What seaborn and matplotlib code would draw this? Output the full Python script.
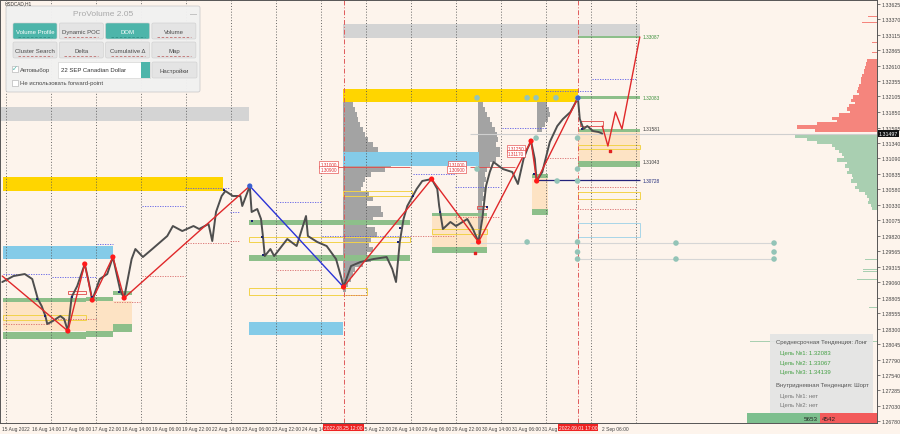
import numpy as np
import pandas as pd
import seaborn as sns
from matplotlib import pyplot as plt
from matplotlib.patches import Rectangle, FancyBboxPatch

sns.set_theme(style='white')
# 字体（西里尔字母 DejaVu / Liberation 都支持）
plt.rcParams['font.family'] = ['Liberation Sans', 'DejaVu Sans']
plt.rcParams['axes.unicode_minus'] = False
plt.rcParams['patch.force_edgecolor'] = False

'''数据'''
# 横轴：交易小时数，0 = 16 Aug 00:00（周末不计）
price_t = [-2, 4, 10, 14, 17, 19, 21, 22, 25, 29,
           31, 33, 35, 38, 42, 44, 46, 50, 54, 57,
           61, 63, 67, 69, 73, 78, 86, 89, 94, 100,
           103, 108, 110, 112, 115, 117, 121, 125, 126, 130,
           131, 134, 136, 137, 138, 141, 143, 150, 155, 160,
           161, 166, 171, 176, 179, 180, 184, 189, 196, 203,
           206, 208, 210, 212, 214, 219, 222, 227, 230, 231,
           233, 237, 240, 246, 249, 252, 254, 256, 258, 260,
           265, 270, 273, 276, 278, 280, 282, 283, 286, 290,
           294, 297, 301, 305, 306, 308, 310, 313, 316, 318]
price_v = [1.29063, 1.29161, 1.29194, 1.29112, 1.28784, 1.28670, 1.28506, 1.28375, 1.28424, 1.28506,
           1.28457, 1.28260, 1.28817, 1.28998, 1.29358, 1.29080, 1.28768, 1.29112, 1.29194, 1.29473,
           1.28916, 1.28801, 1.29440, 1.29604, 1.29473, 1.29604, 1.29817, 1.29981, 1.29899, 1.29981,
           1.29932, 1.30014, 1.29735, 1.30211, 1.30473, 1.30555, 1.30473, 1.30473, 1.30309, 1.30637,
           1.30211, 1.30260, 1.30096, 1.29817, 1.29489, 1.29604, 1.29489, 1.29768, 1.29653, 1.30145,
           1.29817, 1.29719, 1.29653, 1.29440, 1.29112, 1.28981, 1.29325, 1.29391, 1.29440, 1.29473,
           1.29276, 1.29063, 1.29719, 1.30096, 1.30309, 1.30588, 1.30719, 1.30751, 1.30588, 1.30309,
           1.29932, 1.30047, 1.29981, 1.30096, 1.29932, 1.29719, 1.30096, 1.30637, 1.30866, 1.31030,
           1.30915, 1.30866, 1.30670, 1.31079, 1.31243, 1.31374, 1.31079, 1.30719, 1.30866, 1.31358,
           1.31620, 1.31735, 1.31850, 1.32079, 1.31735, 1.31571, 1.31620, 1.31538, 1.31522, 1.31497]
current_price = 1.31497

# ZigZag
zz1_t = [-2, 33, 42, 46, 57, 63, 130]
zz1_v = [1.29161, 1.28260, 1.29358, 1.28768, 1.29473, 1.28801, 1.30637]
zz2_t = [130, 180]
zz2_v = [1.30637, 1.28981]
zz3_t = [180, 227, 252, 280, 283, 305]
zz3_v = [1.28981, 1.30751, 1.29719, 1.31374, 1.30719, 1.32079]
fc_t = [318, 321, 325, 328.5, 338]
fc_v = [1.31620, 1.31292, 1.31850, 1.31571, 1.33079]
red_dot_t = [33, 42, 46, 57, 63, 180, 227, 252, 280, 283]
red_dot_v = [1.28260, 1.29358, 1.28768, 1.29473, 1.28801, 1.28981, 1.30751, 1.29719, 1.31374, 1.30719]
blue_dot_t = [130, 305]
blue_dot_v = [1.30637, 1.32079]
nav_t = [16.5, 20.8, 35.2, 45.9, 60.3, 116.3, 131.2, 136.5, 137.1, 209.1, 210.1, 217.1, 231.5, 256.5, 281.6, 307.2]
nav_v = [1.28784, 1.28506, 1.28817, 1.28817, 1.28899, 1.30571, 1.30063, 1.29801, 1.29506, 1.29719,
         1.29948, 1.30473, 1.30211, 1.30292, 1.30833, 1.31571]

# 区域 (t0, t1, 下沿, 上沿)
grey_zones = [(-3.2, 129.6, 1.31702, 1.31932), (179.7, 338.1, 1.33063, 1.33292)]
gold_zones = [(-1.6, 115.7, 1.30555, 1.30784), (179.7, 305.1, 1.32014, 1.32227)]
blue_zones = [(-1.6, 57.1, 1.29440, 1.29653), (129.6, 179.7, 1.28194, 1.28407), (179.7, 252.0, 1.30965, 1.31194)]
beige_zones = [(-1.6, 67.2, 1.28260, 1.28751), (227.2, 256.5, 1.29637, 1.30145),
               (280.5, 289.1, 1.30260, 1.30768), (305.1, 338.1, 1.31047, 1.31522)]
green_zones = [(-1.6, 42.7, 1.28735, 1.28801), (42.7, 57.1, 1.28751, 1.28817), (57.1, 67.2, 1.28850, 1.28915),
               (-1.6, 42.7, 1.28129, 1.28243), (42.7, 57.1, 1.28161, 1.28260), (57.1, 67.2, 1.28243, 1.28375),
               (129.6, 215.5, 1.29997, 1.30079), (129.6, 215.5, 1.29407, 1.29506),
               (227.2, 256.5, 1.30145, 1.30194), (227.2, 256.5, 1.29538, 1.29637),
               (280.5, 289.1, 1.30768, 1.30833), (280.5, 289.1, 1.30161, 1.30260),
               (305.1, 338.1, 1.32055, 1.32112), (305.1, 338.1, 1.33058, 1.33095),
               (305.1, 338.1, 1.31522, 1.31579), (305.1, 338.1, 1.30948, 1.31047)]
yellow_boxes = [(-1.6, 42.7, 1.28440, 1.28522), (129.6, 215.5, 1.29719, 1.29801), (179.7, 216.5, 1.30473, 1.30555),
                (129.6, 192.5, 1.28850, 1.28965), (227.2, 256.5, 1.29850, 1.29932),
                (305.1, 338.1, 1.31251, 1.31309), (305.1, 338.1, 1.30424, 1.30538)]
lblue_boxes = [(305.1, 338.1, 1.29801, 1.30030)]
red_boxes = [(33, 42.7, 1.28866, 1.28916), (251.2, 256.5, 1.30260, 1.30309), (306, 318.4, 1.31620, 1.31702)]

# 虚线水平位 (t0, t1, 价格)
red_dotted = [(-1.6, 23.5, 1.28375), (23.5, 48.5, 1.28457), (72.5, 95.5, 1.29161), (95.5, 119.5, 1.29702),
              (57.6, 71.5, 1.28735), (119.5, 124.8, 1.29735), (144.5, 168.5, 1.29260), (179.7, 192.5, 1.28850),
              (215.5, 239.5, 1.29817), (239.5, 263.5, 1.30129), (288.5, 304.5, 1.31096),
              (304.5, 336.5, 1.30620), (304.5, 336.5, 1.30260)]
blue_dotted = [(-1.6, 23.5, 1.29194), (24.5, 48.5, 1.29145), (48.5, 57.1, 1.29686), (72.5, 95.5, 1.30309),
               (95.5, 119.5, 1.30604), (119.5, 124.8, 1.30211), (144.5, 168.5, 1.30375), (168.5, 215.5, 1.29825),
               (217.0, 239.5, 1.30833), (239.5, 263.5, 1.30620), (264.5, 288.5, 1.31587),
               (288.5, 312.5, 1.32194), (312.5, 336.5, 1.32391)]
grey_lines = [(247.5, 409.6, 1.29702), (305.1, 409.6, 1.29440)]
teal_t = [251.2, 277.9, 282.7, 293.3, 304.8, 251.2, 282.7, 304.8, 304.8, 293.9, 304.8,
          277.9, 304.8, 304.8, 304.8, 357.3, 409.6, 409.6, 357.3, 409.6]
teal_v = [1.32083, 1.32083, 1.32083, 1.32083, 1.32083, 1.30915, 1.31423, 1.31423, 1.30915, 1.30719, 1.30719,
          1.29719, 1.29719, 1.29555, 1.29440, 1.29702, 1.29702, 1.29555, 1.29440, 1.29440]

# 目标位标签
level_v = [1.33087, 1.32083, 1.31581, 1.31043, 1.30728]
level_col = ['#3c8f3c', '#3c8f3c', '#3a3a3a', '#3a3a3a', '#1f2a7a']

# 红色价格标签 (右端 t, 价格, 文本)
price_tags = [(176.5, 1.30989, '1.31000'), (176.5, 1.30907, '1.30900'),
              (244.8, 1.30989, '1.31000'), (244.8, 1.30907, '1.30900'),
              (276.4, 1.31251, '1.31250'), (276.4, 1.31169, '1.31170')]

# 成交量分布 1（灰色，起点 t=179.7）
vp1_p = [1.32145, 1.32063, 1.31981, 1.31899, 1.31817, 1.31735, 1.31653, 1.31571, 1.31489, 1.31407,
         1.31325, 1.31243, 1.31161, 1.31079, 1.30997, 1.30915, 1.30833, 1.30751, 1.30669, 1.30587,
         1.30505, 1.30424, 1.30342, 1.30260, 1.30178, 1.30096, 1.30014, 1.29932, 1.29850, 1.29768,
         1.29686, 1.29604, 1.29522, 1.29440, 1.29358, 1.29276, 1.29194, 1.29112, 1.29030, 1.28948]
vp1_v = [6, 8, 10, 12, 14, 15, 17, 20, 22, 25,
         30, 35, 45, 50, 48, 42, 28, 22, 20, 18,
         26, 30, 24, 38, 40, 30, 24, 32, 34, 28,
         26, 30, 24, 28, 20, 12, 10, 8, 5, 3]
# 成交量分布 2（起点 t=251.5）
vp2_p = [1.31981, 1.31899, 1.31817, 1.31735, 1.31653, 1.31571, 1.31489, 1.31407, 1.31325, 1.31243,
         1.31161, 1.31079, 1.30997, 1.30915, 1.30833, 1.30751, 1.30669, 1.30587, 1.30505, 1.30424,
         1.30342, 1.30260, 1.30178, 1.30096, 1.30014, 1.29932, 1.29850, 1.29768]
vp2_v = [5, 7, 9, 12, 14, 17, 19, 20, 18, 22,
         22, 18, 12, 9, 7, 8, 6, 7, 5, 6,
         4, 5, 4, 3, 4, 3, 2, 2]
# 成交量分布 3（起点 t=283.2）
vp3_p = [1.32145, 1.32063, 1.31981, 1.31899, 1.31817, 1.31735, 1.31653, 1.31571]
vp3_v = [4, 7, 10, 12, 13, 11, 8, 5]

# 右侧分布（卖 / 买）
sell_p = [1.32686, 1.32637, 1.32587, 1.32538, 1.32489, 1.32440, 1.32391, 1.32341, 1.32292, 1.32243,
          1.32193, 1.32144, 1.32096, 1.32046, 1.31997, 1.31948, 1.31899, 1.31850, 1.31801, 1.31751,
          1.31702, 1.31653, 1.31604, 1.31555]
sell_v = [10, 11, 12, 13, 13, 15, 16, 16, 18, 19,
          20, 18, 24, 26, 22, 28, 30, 27, 38, 45,
          40, 60, 80, 62]
buy_p = [1.31456, 1.31407, 1.31358, 1.31309, 1.31260, 1.31210, 1.31161, 1.31112, 1.31063, 1.31014,
         1.30965, 1.30915, 1.30866, 1.30817, 1.30768, 1.30719, 1.30669, 1.30620, 1.30571, 1.30522,
         1.30473, 1.30424, 1.30374, 1.30325, 1.30276]
buy_v = [82, 70, 60, 45, 42, 38, 35, 33, 40, 30,
         32, 28, 30, 25, 24, 26, 20, 22, 18, 12,
         10, 8, 9, 6, 5]
# 分布外的零散细条
sell_spike_p = [1.33423, 1.33325, 1.32997, 1.32833]
sell_spike_v = [9, 15, 5, 5]
buy_spike_p = [1.30096, 1.29719, 1.29473, 1.29440, 1.29276, 1.29243, 1.29112, 1.28653, 1.28342, 1.28080, 1.27293]
buy_spike_v = [9, 10, 17, 12, 14, 14, 20, 8, 5, 127, 127]

# 坐标轴刻度（被红色标签遮住的刻度只保留可见部分）
day_t = [0, 24, 48, 72, 96, 120, 144, 168, 192, 216, 240, 264, 288, 312, 336]
xtick_t = [-2, 14, 30, 46, 62, 78, 94, 110, 126, 142, 158, 190, 206, 222, 238, 254, 270, 286, 318]
xtick_lab = ['15 Aug 2022', '16 Aug 14:00', '17 Aug 06:00', '17 Aug 22:00', '18 Aug 14:00', '19 Aug 06:00',
             '19 Aug 22:00', '22 Aug 14:00', '23 Aug 06:00', '23 Aug 22:00', '24 Aug 14', '25 Aug 22:00',
             '26 Aug 14:00', '29 Aug 06:00', '29 Aug 22:00', '30 Aug 14:00', '31 Aug 06:00', '31 Aug 2',
             '2 Sep 06:00']
mark_t = [180, 305]
mark_lab = ['2022.08.25 12:00', '2022.09.01 17:00']
ytick_v = [1.33625, 1.33370, 1.33115, 1.32865, 1.32610, 1.32355, 1.32105, 1.31850, 1.31595, 1.31340,
           1.31090, 1.30835, 1.30580, 1.30330, 1.30075, 1.29820, 1.29565, 1.29315, 1.29060, 1.28805,
           1.28555, 1.28300, 1.28045, 1.27790, 1.27540, 1.27285, 1.27030, 1.26780]

'''绘图'''
bg = '#fdf4ec'
px = 1 / 1.875          # 1 像素对应的小时数
t_min, t_max = -3.2, 464.5
fig = plt.figure(figsize=(9, 4.35), dpi=100)
fig.patch.set_facecolor(bg)
ax = fig.add_axes([0, 11 / 435, 877 / 900, 423 / 435])
ax.set_facecolor(bg)
ax.set_xlim(t_min, t_max)
ax.set_ylim(1.26752, 1.33686)


def rect(z, fc, ec='none', lw=0.0, zo=1.5, fill=True):
    t0, t1, p0, p1 = z
    ax.add_patch(Rectangle((t0, p0), t1 - t0, p1 - p0, facecolor=fc if fill else 'none',
                           edgecolor=ec, lw=lw, zorder=zo))


for z in beige_zones:
    rect(z, '#fde3c4', zo=1)

# 成交量分布
bar_kw = dict(edgecolor='none', linewidth=0, zorder=1.3)
ax.barh(vp1_p, np.array(vp1_v) * px, left=179.7, height=0.00082, color='#a3a3a3', **bar_kw)
ax.barh(vp2_p, np.array(vp2_v) * px, left=251.5, height=0.00082, color='#a3a3a3', **bar_kw)
ax.barh(vp3_p, np.array(vp3_v) * px, left=283.2, height=0.00082, color='#a3a3a3', **bar_kw)
ax.barh(sell_p, np.array(sell_v) * px, left=t_max - np.array(sell_v) * px, height=0.00050,
        color='#f5857d', **bar_kw)
ax.barh(buy_p, np.array(buy_v) * px, left=t_max - np.array(buy_v) * px, height=0.00050,
        color='#a9cfb1', **bar_kw)
ax.barh(sell_spike_p, np.array(sell_spike_v) * px, left=t_max - np.array(sell_spike_v) * px,
        height=0.00016, color='#f5857d', **bar_kw)
ax.barh(buy_spike_p, np.array(buy_spike_v) * px, left=t_max - np.array(buy_spike_v) * px,
        height=0.00016, color='#a9cfb1', **bar_kw)

for z in grey_zones:
    rect(z, '#d4d4d4')
for z in gold_zones:
    rect(z, '#ffd500')
for z in blue_zones:
    rect(z, '#84cbe8')
for z in green_zones:
    rect(z, '#8dbf8a', zo=1.6)
for z in yellow_boxes:
    rect(z, 'none', ec='#f2d24a', lw=0.7, zo=1.7, fill=False)
for z in lblue_boxes:
    rect(z, 'none', ec='#a8d6e8', lw=0.7, zo=1.7, fill=False)
for z in red_boxes:
    rect(z, 'none', ec='#e04848', lw=0.6, zo=3, fill=False)

# 竖向网格与标记线
for t in day_t:
    ax.axvline(t, color='#555555', ls=(0, (1.2, 2.2)), lw=0.6, zorder=1.8)
for t in mark_t:
    ax.axvline(t, color='#e05a5a', ls=(0, (5, 2, 1, 2)), lw=0.7, zorder=1.8)

for t0, t1, p in red_dotted:
    ax.hlines(p, t0, t1, color='#d86a6a', ls=(0, (1.5, 1.5)), lw=0.6, zorder=2)
for t0, t1, p in blue_dotted:
    ax.hlines(p, t0, t1, color='#5a5ae6', ls=(0, (1.5, 1.5)), lw=0.6, zorder=2)
for t0, t1, p in grey_lines:
    ax.hlines(p, t0, t1, color='#d6d6d6', lw=0.8, zorder=2)
ax.hlines(current_price, 247.5, t_max, color='#cfcfcf', lw=0.8, zorder=1.9)
ax.hlines(1.30948, 176.5, 215.5, color='#e04848', lw=0.6, zorder=2.1)
ax.hlines(1.30948, 247.5, 271.5, color='#e04848', lw=0.6, zorder=2.1)
ax.hlines(1.30728, 283.2, 338.1, color='#23237a', lw=0.9, zorder=2.1)

# 价格与 ZigZag
sns.lineplot(x=price_t, y=price_v, sort=False, estimator=None, color='#4e4e4e', lw=1.4, ax=ax, zorder=5)
sns.lineplot(x=zz1_t, y=zz1_v, sort=False, estimator=None, color='#e0282a', lw=1.0, ax=ax, zorder=6)
sns.lineplot(x=zz2_t, y=zz2_v, sort=False, estimator=None, color='#2b34d6', lw=1.0, ax=ax, zorder=6)
sns.lineplot(x=zz3_t, y=zz3_v, sort=False, estimator=None, color='#e0282a', lw=1.0, ax=ax, zorder=6)
sns.lineplot(x=fc_t, y=fc_v, sort=False, estimator=None, color='#e0282a', lw=1.0, ax=ax, zorder=6)
sns.scatterplot(x=teal_t, y=teal_v, color='#93c4b7', s=16, edgecolor='none', ax=ax, zorder=6)
sns.scatterplot(x=nav_t, y=nav_v, color='#1c2470', s=4, marker='s', edgecolor='none', ax=ax, zorder=7)
sns.scatterplot(x=red_dot_t, y=red_dot_v, color='#ff1a1a', s=14, edgecolor='none', ax=ax, zorder=7)
sns.scatterplot(x=blue_dot_t, y=blue_dot_v, color='#3a5fd0', s=14, edgecolor='none', ax=ax, zorder=7)
ax.scatter([322.1, 250.0], [1.31210, 1.29538], color='#e02020', s=4, marker='s', zorder=7)

for p, c in zip(level_v, level_col):
    ax.text(339.5, p, f'{p:.5f}', fontsize=3.4, color=c, va='center', ha='left', zorder=8)
for t, p, s in price_tags:
    ax.text(t, p, s, fontsize=3.3, color='#e03030', va='center', ha='right', zorder=8,
            bbox=dict(boxstyle='square,pad=0.25', fc='white', ec='#e03030', lw=0.4))

# 坐标轴样式
ax.yaxis.tick_right()
ax.set_yticks(ytick_v)
ax.set_yticklabels([f'{v:.5f}' for v in ytick_v])
ax.tick_params(axis='y', labelsize=3.8, length=2, width=0.5, pad=1.5, colors='#444444')
ax.set_xticks(xtick_t)
ax.set_xticklabels(xtick_lab)
for lbl in ax.get_xticklabels():
    lbl.set_horizontalalignment('left')
ax.tick_params(axis='x', labelsize=3.5, length=0, pad=2.5, colors='#444444')
ax.set_xlabel('')
ax.set_ylabel('')
for s in ax.spines.values():
    s.set_color('#555555')
    s.set_linewidth(0.7)
for t, s in zip(mark_t, mark_lab):
    ax.text(t, -0.004, s, transform=ax.get_xaxis_transform(), fontsize=3.5, color='white',
            ha='center', va='top', zorder=10, clip_on=False,
            bbox=dict(boxstyle='square,pad=0.2', fc='#ee2222', ec='none'))
ax.text(1.002, current_price, f'{current_price:.5f}', transform=ax.get_yaxis_transform(), fontsize=3.8,
        color='white', ha='left', va='center', zorder=10, clip_on=False,
        bbox=dict(boxstyle='square,pad=0.2', fc='#111111', ec='none'))

'''界面覆盖层（像素坐标）'''
ov = fig.add_axes([0, 0, 1, 1], zorder=20)
ov.set_xlim(0, 900)
ov.set_ylim(435, 0)
ov.axis('off')
ov.patch.set_alpha(0)
ov.text(5, 3.5, 'USDCAD,H1', fontsize=3.4, color='#333333', va='center')

ov.add_patch(FancyBboxPatch((6, 7), 194, 86, boxstyle='round,pad=0,rounding_size=2',
                            fc='#f1f1f1', ec='#cccccc', lw=0.6, alpha=0.97))
ov.text(103, 15, 'ProVolume 2.05', fontsize=6, color='#a9a9a9', ha='center', va='center')
ov.text(193, 15, '—', fontsize=5, color='#999999', ha='center', va='center')


def button(x0, y0, w, h, text, active=False):
    fc = '#4db5aa' if active else '#e4e4e4'
    ov.add_patch(FancyBboxPatch((x0, y0), w, h, boxstyle='round,pad=0,rounding_size=1.5',
                                fc=fc, ec='#cdcdcd', lw=0.4))
    ov.text(x0 + w / 2, y0 + h / 2 + 0.5, text, fontsize=4.3, ha='center', va='center',
            color='white' if active else '#4a4a4a')
    # 按钮底部的小指示条
    ov.plot([x0 + 5, x0 + w - 5], [y0 + h - 2.5, y0 + h - 2.5], color='#c07070' if not active else '#2f8f86',
            lw=0.6, ls=(0, (3, 2)))


row1 = [('Volume Profile', True), ('Dynamic POC', False), ('DOM', True), ('Volume', False)]
row2 = [('Cluster Search', False), ('Delta', False), ('Cumulative Δ', False), ('Map', False)]
for i, (s, a) in enumerate(row1):
    button(13 + i * 46.3, 24, 44, 16, s, a)
for i, (s, a) in enumerate(row2):
    button(13 + i * 46.3, 43, 44, 16, s, a)

ov.add_patch(Rectangle((12, 67), 6, 6, fc='white', ec='#aaaaaa', lw=0.4))
ov.text(15, 69.5, '✓', fontsize=5, color='#4db5aa', ha='center', va='center')
ov.text(20, 70.5, 'Автовыбор', fontsize=4.3, color='#4a4a4a', va='center')
ov.add_patch(Rectangle((58, 63), 92, 16, fc='white', ec='#cdcdcd', lw=0.4))
ov.add_patch(Rectangle((141, 63), 9, 16, fc='#4db5aa', ec='none'))
ov.text(61, 71, '22 SEP Canadian Dollar', fontsize=4.3, color='#333333', va='center')
ov.add_patch(FancyBboxPatch((152, 63), 45, 16, boxstyle='round,pad=0,rounding_size=1.5',
                            fc='#e4e4e4', ec='#cdcdcd', lw=0.4))
ov.text(174.5, 71.5, 'Настройки', fontsize=4.3, ha='center', va='center', color='#4a4a4a')
ov.add_patch(Rectangle((12, 81), 6, 6, fc='white', ec='#aaaaaa', lw=0.4))
ov.text(20, 84, 'Не использовать forward-point', fontsize=4.3, color='#4a4a4a', va='center')

# 右下角信息框
ov.add_patch(Rectangle((770, 335), 103, 80, fc='#e4e4e4', ec='none', alpha=0.93))
info = [(776, 343, 'Среднесрочная Тенденция: Лонг', '#555555'),
        (780, 353, 'Цель №1: 1.32083', '#46a046'),
        (780, 363, 'Цель №2: 1.33067', '#46a046'),
        (780, 372, 'Цель №3: 1.34139', '#46a046'),
        (776, 386, 'Внутридневная Тенденция: Шорт', '#555555'),
        (780, 396, 'Цель №1: нет', '#777777'),
        (780, 405, 'Цель №2: нет', '#777777')]
for x, y, s, c in info:
    ov.text(x, y, s, fontsize=4.3, color=c, va='center')

ov.add_patch(Rectangle((747, 414), 73, 10, fc='#7dbf8e', ec='none'))
ov.add_patch(Rectangle((820, 414), 57, 10, fc='#f25a5a', ec='none'))
ov.text(818, 419.5, '5653', fontsize=4.5, color='#222222', ha='right', va='center')
ov.text(822, 419.5, '4542', fontsize=4.5, color='#222222', ha='left', va='center')

plt.savefig('out.png', dpi=100, facecolor=bg)
